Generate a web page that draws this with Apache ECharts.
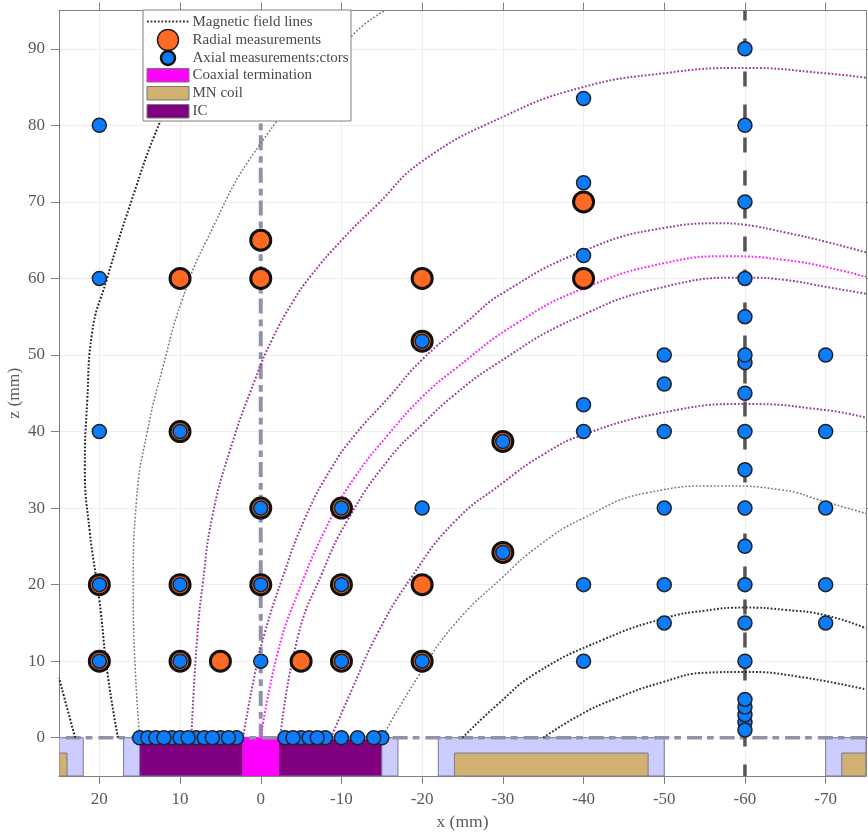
<!DOCTYPE html>
<html>
<head>
<meta charset="utf-8">
<title>Measurement positions</title>
<script src="https://cdn.jsdelivr.net/npm/echarts@6/dist/echarts.min.js"></script>
<style>
  html, body { margin: 0; padding: 0; background: #fff; }
  #chart { width: 868px; height: 833px; }
</style>
</head>
<body>
<div id="chart"></div>
<script>
// tick values
const xTicks = [20, 10, 0, -10, -20, -30, -40, -50, -60, -70];
const zTicks = [0, 10, 20, 30, 40, 50, 60, 70, 80, 90];

// measurement positions [x, z]
const radialPoints = [
  [20, 10], [20, 20], [10, 10], [10, 20], [10, 40], [10, 60], [5, 10],
  [0, 20], [0, 30], [0, 60], [0, 65], [-5, 10], [-10, 10], [-10, 20], [-10, 30],
  [-20, 10], [-20, 20], [-20, 51.8], [-20, 60], [-30, 24.2], [-30, 38.7],
  [-40, 60], [-40, 70]
];
const axialPoints = [
  [15, 0], [14, 0], [13, 0], [11, 0], [10, 0], [8, 0], [7, 0], [5, 0], [3, 0],
  [12, 0], [9, 0], [6, 0], [4, 0],
  [-3, 0], [-5, 0], [-6, 0], [-8, 0], [-4, 0], [-7, 0],
  [-10, 0], [-12, 0], [-15, 0], [-14, 0],
  [20, 10], [20, 20], [20, 40], [20, 60], [20, 80],
  [10, 10], [10, 20], [10, 40],
  [0, 10], [0, 20], [0, 30],
  [-10, 10], [-10, 20], [-10, 30],
  [-20, 10], [-20, 30], [-20, 51.8],
  [-30, 24.2], [-30, 38.7],
  [-40, 10], [-40, 20], [-40, 40], [-40, 43.5], [-40, 63], [-40, 72.5], [-40, 83.5],
  [-50, 15], [-50, 20], [-50, 30], [-50, 40], [-50, 46.2], [-50, 50],
  [-60, 2], [-60, 3], [-60, 4], [-60, 5], [-60, 1], [-60, 10], [-60, 15], [-60, 20],
  [-60, 25], [-60, 30], [-60, 35], [-60, 40], [-60, 45], [-60, 49], [-60, 50],
  [-60, 55], [-60, 60], [-60, 70], [-60, 80], [-60, 90],
  [-70, 15], [-70, 20], [-70, 30], [-70, 40], [-70, 50]
];

// field lines [x, z]
const fieldLeftEdge = [[23, 0], [25, 7.8]];
const fieldOuterLeft = [
  [17.7, 0], [19, 8.5], [20, 18], [21.2, 27], [21.8, 35.4], [21.5, 44], [20.9, 52.9],
  [19.1, 59.8], [16, 70.2], [12.5, 80.4], [9, 88], [6, 95]
];
const fieldGrayLeft = [
  [15, 0], [15.6, 10], [15.8, 20], [15.4, 31], [14.1, 39.8], [12.1, 48.5], [9.8, 57],
  [6.7, 65], [0.1, 77.5], [-11.4, 91.8], [-15.4, 95]
];
const fieldPurpleOuter = [
  [8.6, 0], [7.9, 12.8], [7.2, 20], [6, 28.9], [3.8, 37.6], [0.7, 46.8], [-1.4, 52], [-4, 57],
  [-6.1, 60.2], [-10.2, 65.2], [-14.4, 69.6], [-20, 75.3], [-30, 81.1], [-39.6, 84.9],
  [-49.9, 86.8], [-60, 87.5], [-70, 86.8], [-75, 86.2]
];
const fieldPurpleUpper = [
  [2.2, 0], [0.7, 8.5], [-0.5, 13.7], [-2.6, 20.6], [-5.5, 28.7], [-8.8, 35.3], [-11.7, 39.6],
  [-15.8, 44.4], [-20, 49.4], [-25.6, 54.4], [-30, 58.1], [-40, 63.6], [-50, 66.6], [-57, 67.2],
  [-60, 67], [-65, 66], [-70, 64.8], [-75, 63.4]
];
const fieldMagenta = [
  [0, 0], [-2.1, 11.1], [-4.6, 18.9], [-8.6, 28.5], [-11.7, 34.1], [-15.8, 39.6], [-20, 44.5],
  [-24, 48.1], [-31.8, 54.2], [-40, 58.7], [-50, 62], [-58.2, 62.9], [-65, 62.4], [-70, 61.5], [-75, 60.2]
];
const fieldPurpleLower = [
  [-2.4, 0], [-4.6, 13.2], [-7.6, 21.5], [-10.8, 28.5], [-15.8, 36.3], [-20, 40.9], [-24, 44.8],
  [-29.3, 48.9], [-38.6, 54.6], [-50, 58.9], [-60, 60.1], [-65, 59.8], [-70, 58.9], [-75, 58]
];
const fieldPurpleInner = [
  [-8.7, 0], [-11.3, 6.3], [-14.5, 13.7], [-18.7, 21], [-24, 28.2], [-30, 33.3], [-35, 37],
  [-40, 39.6], [-50, 42.5], [-60, 43.6], [-70, 42.8], [-75, 41.8]
];
const fieldGrayRight = [
  [-15, 0], [-19.5, 8], [-24, 14.8], [-30, 21], [-34.6, 25.2], [-40, 28.7], [-47.9, 32],
  [-57, 32.9], [-64.4, 32.4], [-70, 30.8], [-75, 29.3]
];
const fieldBlackUpper = [
  [-25, 0], [-29.3, 4.3], [-34.2, 8.5], [-42.4, 12.8], [-50, 15.6], [-55, 16.6], [-60, 17],
  [-65, 16.7], [-70, 16], [-75, 14.3]
];
const fieldBlackLower = [
  [-35, 0], [-39.6, 3], [-43.7, 5], [-49.9, 7.3], [-55.3, 8.5], [-60, 8.6], [-66.5, 8], [-75, 6.3]
];

// reference lines
const centerAxis = [[0, 0], [0, 95]];
const baseLine = [[25, 0], [-75, 0]];
const measureAxis = [[-60, 95], [-60, -5]];

// hardware blocks [x0, x1, z0, z1]
const housingBlocks = [[25, 22, -5, 0], [17, -17, -5, 0], [-22, -50, -5, 0], [-70, -75, -5, 0]];
const coilBlocks = [[25, 24, -5, -2], [-24, -48, -5, -2], [-72, -75, -5, -2]];
const icBlocks = [[15, 2.2, -5, 0], [-2.2, -15, -5, 0]];
const coaxBlocks = [[2.2, -2.2, -5, 0]];

const SERIF = '"Liberation Serif", "Times New Roman", serif';
const TEXT = '#5a5a5a';
const BOX = '#808080';

const chart = echarts.init(document.getElementById('chart'));

function blockSeries(data, fill, stroke) {
  return {
    type: 'custom',
    silent: true,
    data: data,
    z: 2,
    clip: true,
    encode: { x: [0, 1], y: [2, 3] },
    renderItem: (params, api) => {
      const a = api.coord([api.value(0), api.value(3)]);
      const b = api.coord([api.value(1), api.value(2)]);
      return {
        type: 'rect',
        shape: { x: a[0], y: a[1], width: b[0] - a[0], height: b[1] - a[1] },
        style: { fill: fill, stroke: stroke, lineWidth: 1 }
      };
    }
  };
}

function fieldLine(data, color, width) {
  return {
    type: 'line',
    data: data,
    smooth: 0.5,
    symbol: 'none',
    silent: true,
    z: 4,
    lineStyle: { color: color, width: width, type: [1.8, 1.8] }
  };
}

function refLine(data, color, width, dash, offset) {
  return {
    type: 'line',
    data: data,
    symbol: 'none',
    silent: true,
    z: 3,
    lineStyle: { color: color, width: width, type: dash, dashOffset: offset }
  };
}

// legend drawn by hand: MATLAB style rows with big markers
const legendRows = ['Magnetic field lines', 'Radial measurements', 'Axial measurements:ctors',
  'Coaxial termination', 'MN coil', 'IC'];
const legendMid = [22, 40, 58, 75.5, 93, 111];

function legendGraphic() {
  const out = [{
    type: 'rect', shape: { x: 143, y: 10, width: 208, height: 111 },
    style: { fill: '#fff', stroke: BOX, lineWidth: 1 }, z: 100
  }];
  legendRows.forEach((name, i) => {
    out.push({
      type: 'text', x: 192.5, y: legendMid[i], z: 101,
      style: { text: name, font: '15px ' + SERIF, fill: '#4a4a4a', textVerticalAlign: 'middle' }
    });
  });
  out.push({
    type: 'line', shape: { x1: 147, y1: 21.5, x2: 189, y2: 21.5 }, z: 101,
    style: { stroke: '#333', lineWidth: 1.8, lineDash: [1.8, 1.8] }
  });
  out.push({
    type: 'circle', shape: { cx: 168, cy: 40, r: 10.5 }, z: 101,
    style: { fill: '#ff6a22', stroke: '#222', lineWidth: 1.5 }
  });
  out.push({
    type: 'circle', shape: { cx: 168, cy: 58, r: 7 }, z: 101,
    style: { fill: '#0a7cff', stroke: '#111', lineWidth: 2.5 }
  });
  [['#ff00ff', 68.5], ['#d2b070', 86.5], ['#800080', 104.5]].forEach(r => {
    out.push({
      type: 'rect', shape: { x: 147, y: r[1], width: 42, height: 13.5 }, z: 101,
      style: { fill: r[0], stroke: '#777', lineWidth: 1 }
    });
  });
  return out;
}

const axisLabelStyle = { color: TEXT, fontFamily: SERIF, fontSize: 17 };
const tickLine = { show: true, length: 8, lineStyle: { color: BOX, width: 1 } };
const gridLine = { show: true, lineStyle: { color: '#eeeeee', width: 1 } };

chart.setOption({
  animation: false,
  backgroundColor: '#fff',
  grid: { left: 59, right: 2, top: 10.5, bottom: 57, containLabel: false, outerBoundsMode: 'none' },
  xAxis: [{
    type: 'value', inverse: true, min: -75, max: 25, position: 'bottom',
    name: 'x (mm)', nameLocation: 'middle', nameGap: 37, nameMoveOverlap: false,
    nameTextStyle: { color: TEXT, fontFamily: SERIF, fontSize: 17.5 },
    axisLine: { show: true, onZero: false, lineStyle: { color: BOX, width: 1 } },
    axisTick: Object.assign({ customValues: xTicks }, tickLine),
    axisLabel: Object.assign({ customValues: xTicks, margin: 15 }, axisLabelStyle),
    splitLine: Object.assign({ customValues: xTicks }, gridLine)
  }, {
    type: 'value', inverse: true, min: -75, max: 25, position: 'top',
    axisLine: { show: true, onZero: false, lineStyle: { color: BOX, width: 1 } },
    axisTick: Object.assign({ customValues: xTicks }, tickLine),
    axisLabel: { show: false },
    splitLine: { show: false }
  }],
  yAxis: [{
    type: 'value', min: -5, max: 95, position: 'left',
    name: 'z (mm)', nameLocation: 'middle', nameGap: 36, nameMoveOverlap: false,
    nameTextStyle: { color: TEXT, fontFamily: SERIF, fontSize: 17.5 },
    axisLine: { show: true, onZero: false, lineStyle: { color: BOX, width: 1 } },
    axisTick: Object.assign({ customValues: zTicks }, tickLine),
    axisLabel: Object.assign({ customValues: zTicks, margin: 14 }, axisLabelStyle),
    splitLine: Object.assign({ customValues: zTicks }, gridLine)
  }, {
    type: 'value', min: -5, max: 95, position: 'right',
    axisLine: { show: true, onZero: false, lineStyle: { color: BOX, width: 1 } },
    axisTick: Object.assign({ customValues: zTicks }, tickLine),
    axisLabel: { show: false },
    splitLine: { show: false }
  }],
  series: [
    blockSeries(housingBlocks, '#ccccff', '#77779a'),
    blockSeries(coilBlocks, '#d2b070', '#77779a'),
    blockSeries(icBlocks, '#800080', '#77779a'),
    blockSeries(coaxBlocks, '#ff00ff', '#ff00ff'),
    refLine(baseLine, '#9191aa', 3.5, [15, 5, 6.7, 6], 26),
    refLine(centerAxis, '#9191aa', 4, [15, 5, 6.7, 6], 1),
    refLine(measureAxis, '#555555', 3.5, [15, 18], 5),
    fieldLine(fieldLeftEdge, '#222', 2),
    fieldLine(fieldOuterLeft, '#222', 2),
    fieldLine(fieldGrayLeft, '#777', 1.5),
    fieldLine(fieldPurpleOuter, '#9c3c9c', 2),
    fieldLine(fieldPurpleUpper, '#9c3c9c', 2),
    fieldLine(fieldMagenta, '#ff22ff', 2),
    fieldLine(fieldPurpleLower, '#9c3c9c', 2),
    fieldLine(fieldPurpleInner, '#9c3c9c', 2),
    fieldLine(fieldGrayRight, '#777', 1.5),
    fieldLine(fieldBlackUpper, '#333', 2),
    fieldLine(fieldBlackLower, '#333', 2),
    {
      name: 'Radial measurements', type: 'scatter', data: radialPoints, symbolSize: 20, z: 6,
      silent: true,
      itemStyle: { color: '#ff6a22', borderColor: '#111', borderWidth: 3, opacity: 1 }
    },
    {
      name: 'Axial measurements', type: 'scatter', data: axialPoints, symbolSize: 14, z: 7,
      silent: true,
      itemStyle: { color: '#0a7cff', borderColor: '#222', borderWidth: 1.5, opacity: 1 }
    }
  ],
  graphic: legendGraphic()
});
</script>
</body>
</html>
